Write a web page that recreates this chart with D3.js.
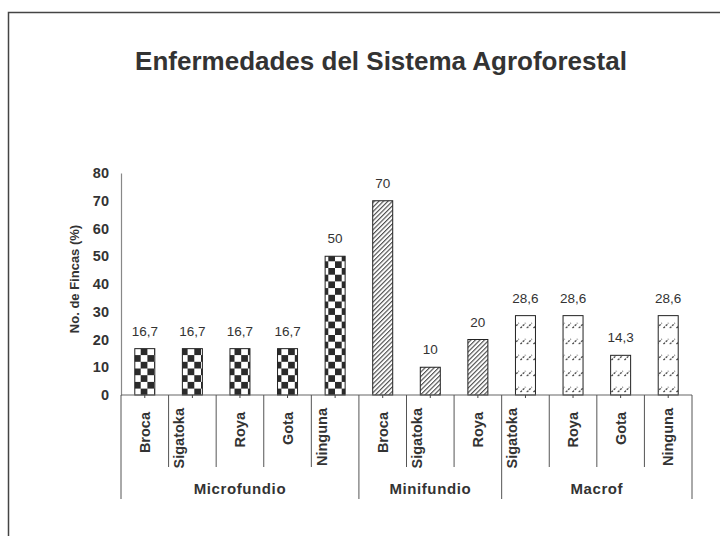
<!DOCTYPE html>
<html><head><meta charset="utf-8">
<script src="https://cdn.jsdelivr.net/npm/d3@7"></script>
<style>html,body{margin:0;padding:0;background:#fff;}svg{display:block;font-family:"Liberation Sans",Arial,sans-serif;}</style>
</head><body>
<script>
const title = "Enfermedades del Sistema Agroforestal";
const yTitle = "No. de Fincas (%)";
const categories = ["Broca","Sigatoka","Roya","Gota","Ninguna","Broca","Sigatoka","Roya","Sigatoka","Roya","Gota","Ninguna"];
const groupOf = ["Microfundio","Microfundio","Microfundio","Microfundio","Microfundio","Minifundio","Minifundio","Minifundio","Macrof","Macrof","Macrof","Macrof"];
const groupNames = ["Microfundio","Minifundio","Macrof"];
const values = [16.7,16.7,16.7,16.7,50,70,10,20,28.6,28.6,14.3,28.6];
const yTicks = [0,10,20,30,40,50,60,70,80];

(function(){
const W = 720, H = 536;
const svg = d3.select("body").append("svg").attr("width", W).attr("height", H);
const defs = svg.append("defs");

// checkerboard
const pc = defs.append("pattern").attr("id","pMicro").attr("patternUnits","userSpaceOnUse")
  .attr("width",13.4).attr("height",13.4).attr("x",134).attr("y",0);
pc.append("rect").attr("width",13.4).attr("height",13.4).attr("fill","#fff");
pc.append("rect").attr("x",6.7).attr("y",0).attr("width",6.7).attr("height",6.7).attr("fill","#2b2b2b");
pc.append("rect").attr("x",0).attr("y",6.7).attr("width",6.7).attr("height",6.7).attr("fill","#2b2b2b");

// dense diagonal hatch
const ph = defs.append("pattern").attr("id","pMini").attr("patternUnits","userSpaceOnUse")
  .attr("width",3.2).attr("height",3.2).attr("patternTransform","rotate(45)");
ph.append("rect").attr("width",3.2).attr("height",3.2).attr("fill","#fff");
ph.append("line").attr("x1",0.6).attr("y1",0).attr("x2",0.6).attr("y2",3.2).attr("stroke","#333").attr("stroke-width",1);

// dashed sparse diagonals
const pd = defs.append("pattern").attr("id","pMacro").attr("patternUnits","userSpaceOnUse")
  .attr("width",6.5).attr("height",16);
pd.append("rect").attr("width",6.5).attr("height",16).attr("fill","#fff");
pd.append("line").attr("x1",0.5).attr("y1",8).attr("x2",5.5).attr("y2",3).attr("stroke","#222").attr("stroke-width",1.1).attr("stroke-dasharray","2,1.2");

const fills = {"Microfundio":"url(#pMicro)","Minifundio":"url(#pMini)","Macrof":"url(#pMacro)"};

// outer frame
svg.append("rect").attr("x",8.5).attr("y",12.5).attr("width",W+20).attr("height",H+20)
  .attr("fill","none").attr("stroke","#444").attr("stroke-width",1.5);

const pl = 121, pr = 692, pt = 173, pb = 395;
const x = d3.scaleBand().domain(d3.range(categories.length)).range([pl,pr]).paddingInner(0).paddingOuter(0);
const y = d3.scaleLinear().domain([0,80]).range([pb,pt]);
const bw = 20;

// title
svg.append("text").attr("x",381).attr("y",70).attr("text-anchor","middle")
  .attr("font-size",26).attr("font-weight","bold").attr("fill","#333").text(title);

// y axis
const yAxis = d3.axisLeft(y).tickValues(yTicks).tickSize(0).tickPadding(12).tickFormat(d3.format("d"));
const ga = svg.append("g").attr("transform",`translate(${pl},0)`).call(yAxis);
ga.select(".domain").attr("stroke","#888").attr("stroke-width",1.2);
ga.selectAll("text").attr("font-size",14.5).attr("font-weight","bold").attr("fill","#333")
  .attr("font-family","Liberation Sans, Arial, sans-serif");

svg.append("text").attr("transform",`translate(79,${279}) rotate(-90)`).attr("text-anchor","middle")
  .attr("font-size",13).attr("font-weight","bold").attr("fill","#333").text(yTitle);

// bars
const fmt = d3.formatLocale({decimal:",",thousands:".",grouping:[3],currency:["",""]}).format(".3~g");
svg.append("g").selectAll("rect").data(values).join("rect")
  .attr("x",(d,i)=>x(i)+x.bandwidth()/2-bw/2).attr("width",bw)
  .attr("y",d=>y(d)).attr("height",d=>y(0)-y(d))
  .attr("fill",(d,i)=>fills[groupOf[i]]).attr("stroke","#222").attr("stroke-width",1);

svg.append("g").selectAll("text").data(values).join("text")
  .attr("x",(d,i)=>x(i)+x.bandwidth()/2).attr("y",d=>y(d)-13)
  .attr("text-anchor","middle").attr("font-size",13.5).attr("fill","#333").text(d=>fmt(d));

// x axis line
svg.append("line").attr("x1",pl).attr("x2",pr).attr("y1",pb).attr("y2",pb)
  .attr("stroke","#666").attr("stroke-width",1.2);
// small ticks at category centers
svg.append("g").selectAll("line").data(categories).join("line")
  .attr("x1",(d,i)=>x(i)+x.bandwidth()/2).attr("x2",(d,i)=>x(i)+x.bandwidth()/2)
  .attr("y1",pb).attr("y2",pb+3).attr("stroke","#444");

// separators
const bounds = d3.range(categories.length+1);
svg.append("g").selectAll("line").data(bounds).join("line")
  .attr("x1",i=>i<categories.length?x(i):pr).attr("x2",i=>i<categories.length?x(i):pr)
  .attr("y1",pb)
  .attr("y2",i=>(i===0||i===categories.length||groupOf[i]!==groupOf[i-1])?499:467)
  .attr("stroke","#555").attr("stroke-width",1);

// category labels
svg.append("g").selectAll("text").data(categories).join("text")
  .attr("transform",(d,i)=>{
    const shift = (d.length>=7 && i<categories.length-1) ? -13 : 0;
    return `translate(${x(i)+x.bandwidth()/2+5+shift},${d.length>=7?408:412}) rotate(-90)`;
  })
  .attr("text-anchor","end").attr("font-size",14.5).attr("font-weight","bold").attr("fill","#333").text(d=>d);

// group labels
groupNames.forEach(g=>{
  const idx = d3.range(categories.length).filter(i=>groupOf[i]===g);
  const x0 = x(idx[0]), x1 = x(idx[idx.length-1])+x.bandwidth();
  svg.append("text").attr("x",(x0+x1)/2).attr("y",494).attr("text-anchor","middle")
    .attr("font-size",15).attr("letter-spacing",0.6).attr("font-weight","bold").attr("fill","#333").text(g);
});
})();
</script>
</body></html>
